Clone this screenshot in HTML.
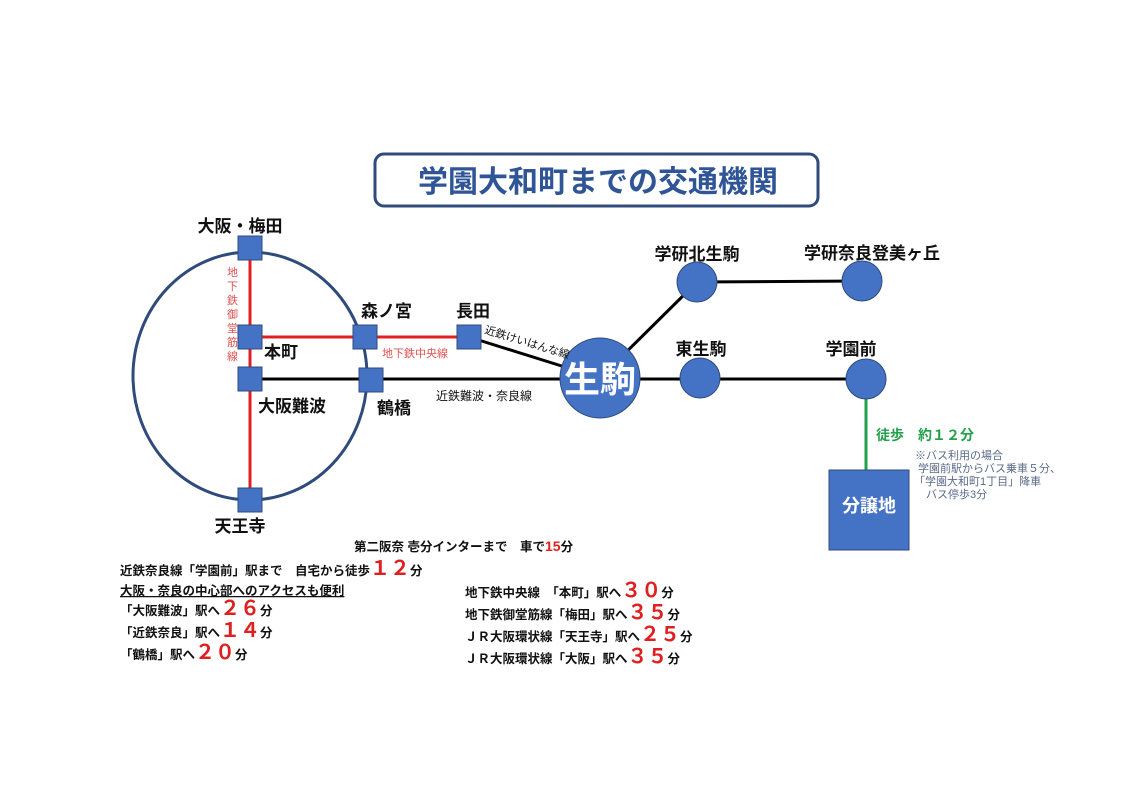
<!DOCTYPE html>
<html><head><meta charset="utf-8"><style>
body{margin:0;background:#fff;}
svg{display:block;font-family:"Liberation Sans","Noto Sans CJK JP",sans-serif;}
</style></head><body>
<svg width="1131" height="800" viewBox="0 0 1131 800" xmlns="http://www.w3.org/2000/svg">
<rect width="1131" height="800" fill="#fff"/>
<rect x="375" y="154" width="443" height="52" rx="9" fill="#fff" stroke="#2f4b7c" stroke-width="3"/>
<text x="598" y="192" text-anchor="middle" font-size="30" font-weight="bold" fill="#2f5597">学園大和町までの交通機関</text>
<ellipse cx="250" cy="376" rx="117" ry="124" fill="none" stroke="#2f4b7c" stroke-width="3"/>
<line x1="250" y1="248" x2="250" y2="500" stroke="#e02020" stroke-width="3"/>
<line x1="250" y1="337" x2="469" y2="337" stroke="#e02020" stroke-width="3"/>
<line x1="250" y1="379" x2="600" y2="379" stroke="#000" stroke-width="3"/>
<line x1="469" y1="337" x2="600" y2="378" stroke="#000" stroke-width="3"/>
<line x1="600" y1="378" x2="697" y2="282" stroke="#000" stroke-width="3"/>
<line x1="697" y1="282" x2="862" y2="281" stroke="#000" stroke-width="3"/>
<line x1="600" y1="379" x2="866" y2="379" stroke="#000" stroke-width="3"/>
<line x1="866" y1="390" x2="866" y2="470" stroke="#22a04a" stroke-width="3"/>
<g fill="#4472c4" stroke="#2f4b7c" stroke-width="1">
<rect x="238" y="236" width="24" height="24"/>
<rect x="238" y="325" width="24" height="24"/>
<rect x="238" y="367" width="24" height="24"/>
<rect x="238" y="488" width="24" height="24"/>
<rect x="353" y="325" width="24" height="24"/>
<rect x="359" y="368" width="24" height="24"/>
<rect x="457" y="325" width="24" height="24"/>
<circle cx="600" cy="378" r="40"/>
<circle cx="697" cy="282" r="20"/>
<circle cx="862" cy="281" r="20"/>
<circle cx="700" cy="378" r="20"/>
<circle cx="866" cy="379" r="20"/>
<rect x="829" y="470" width="80" height="80"/>
</g>
<text x="600" y="392" text-anchor="middle" font-size="36" font-weight="bold" fill="#fff">生駒</text>
<text x="869" y="512" text-anchor="middle" font-size="18" font-weight="bold" fill="#fff">分譲地</text>
<g font-size="17" font-weight="bold" fill="#111">
<text x="240" y="232" text-anchor="middle">大阪・梅田</text>
<text x="264" y="358">本町</text>
<text x="258" y="412">大阪難波</text>
<text x="240" y="532" text-anchor="middle">天王寺</text>
<text x="361" y="317">森ノ宮</text>
<text x="456" y="317">長田</text>
<text x="377" y="414">鶴橋</text>
<text x="697" y="260" text-anchor="middle">学研北生駒</text>
<text x="872" y="259" text-anchor="middle">学研奈良登美ヶ丘</text>
<text x="701" y="355" text-anchor="middle">東生駒</text>
<text x="851" y="355" text-anchor="middle">学園前</text>
</g>
<g font-size="11" fill="#e05050">
<text x="227" y="276">地</text><text x="227" y="290">下</text><text x="227" y="304">鉄</text><text x="227" y="318">御</text><text x="227" y="332">堂</text><text x="227" y="346">筋</text><text x="227" y="360">線</text>
<text x="382" y="357">地下鉄中央線</text>
</g>
<text x="484" y="333" font-size="11" fill="#111" transform="rotate(17 484 333)">近鉄けいはんな線</text>
<text x="436" y="400" font-size="12" fill="#111">近鉄難波・奈良線</text>
<text x="876" y="440" font-size="14" font-weight="bold" fill="#22a04a">徒歩　約１２分</text>
<g font-size="11" fill="#5a6a8a">
<text x="915" y="459">※バス利用の場合</text>
<text x="918" y="472">学園前駅からバス乗車５分、</text>
<text x="914" y="485">「学園大和町1丁目」降車</text>
<text x="926" y="498">バス停歩3分</text>
</g>
<g font-size="12.5" font-weight="bold" fill="#111">
<text x="354" y="551">第二阪奈 壱分インターまで　車で<tspan fill="#e02020" font-size="14">15</tspan>分</text>
<text x="120" y="575">近鉄奈良線「学園前」駅まで　自宅から徒歩<tspan fill="#e02020" font-size="20">１２</tspan>分</text>
<text x="120" y="595" text-decoration="underline">大阪・奈良の中心部へのアクセスも便利</text>
<text x="120" y="615">「大阪難波」駅へ<tspan fill="#e02020" font-size="20">２６</tspan>分</text>
<text x="120" y="637">「近鉄奈良」駅へ<tspan fill="#e02020" font-size="20">１４</tspan>分</text>
<text x="120" y="659">「鶴橋」駅へ<tspan fill="#e02020" font-size="20">２０</tspan>分</text>
<text x="465" y="597">地下鉄中央線　「本町」駅へ<tspan fill="#e02020" font-size="20">３０</tspan>分</text>
<text x="465" y="619">地下鉄御堂筋線「梅田」駅へ<tspan fill="#e02020" font-size="20">３５</tspan>分</text>
<text x="465" y="641">ＪＲ大阪環状線「天王寺」駅へ<tspan fill="#e02020" font-size="20">２５</tspan>分</text>
<text x="465" y="663">ＪＲ大阪環状線「大阪」駅へ<tspan fill="#e02020" font-size="20">３５</tspan>分</text>
</g>
</svg>
</body></html>
